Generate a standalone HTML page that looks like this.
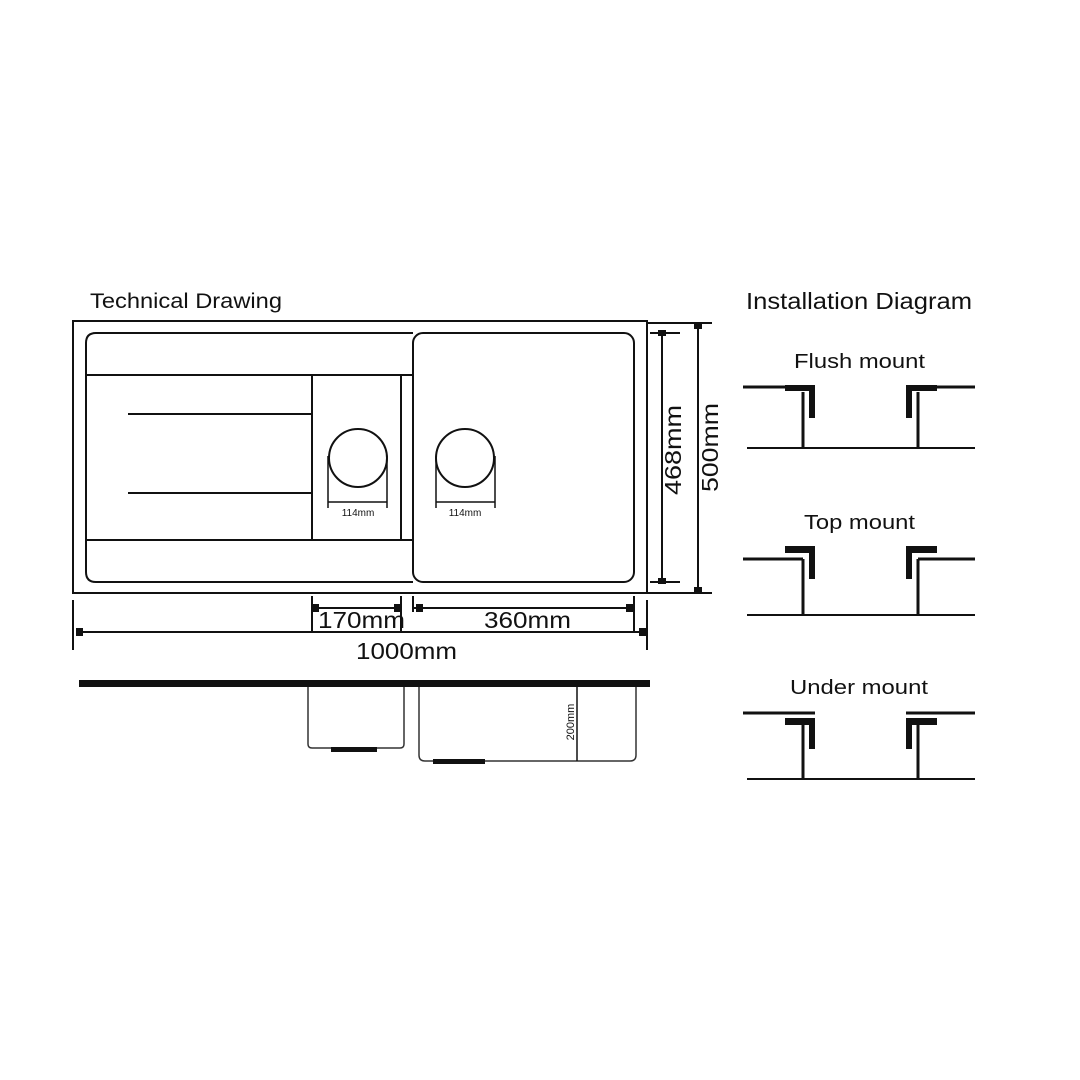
<!DOCTYPE html>
<html><head><meta charset="utf-8"><style>
html,body{margin:0;padding:0;background:#fff;}
svg{display:block;}
text{font-family:"Liberation Sans",sans-serif;fill:#111;}
</style></head><body>
<svg width="1080" height="1080" viewBox="0 0 1080 1080" xmlns="http://www.w3.org/2000/svg">
<rect width="1080" height="1080" fill="#fff"/>
<text x="90" y="308" font-size="21" textLength="192" lengthAdjust="spacingAndGlyphs">Technical Drawing</text>
<text x="746" y="309" font-size="23" textLength="226" lengthAdjust="spacingAndGlyphs">Installation Diagram</text>
<g fill="none" stroke="#111" stroke-width="2">
<rect x="73" y="321" width="574" height="272"/>
<path d="M413 333 H96 Q86 333 86 343 V572 Q86 582 96 582 H413"/>
<rect x="413" y="333" width="221" height="249" rx="10"/>
<line x1="86" y1="375" x2="413" y2="375"/>
<line x1="86" y1="540" x2="413" y2="540"/>
<line x1="312" y1="375" x2="312" y2="540"/>
<line x1="401" y1="375" x2="401" y2="540"/>
<line x1="128" y1="414" x2="312" y2="414"/>
<line x1="128" y1="493" x2="312" y2="493"/>
<circle cx="358" cy="458" r="29"/>
<circle cx="465" cy="458" r="29"/>
<path d="M328 456 V508 M387 456 V508 M328 502 H387" stroke-width="1.5"/>
<path d="M436 456 V508 M495 456 V508 M436 502 H495" stroke-width="1.5"/>
<line x1="662" y1="333" x2="662" y2="582"/>
<line x1="650" y1="333" x2="680" y2="333"/>
<line x1="650" y1="582" x2="680" y2="582"/>
<line x1="698" y1="323" x2="698" y2="593"/>
<line x1="648" y1="323" x2="712" y2="323"/>
<line x1="648" y1="593" x2="712" y2="593"/>
<line x1="312" y1="596" x2="312" y2="632"/>
<line x1="401" y1="596" x2="401" y2="632"/>
<line x1="413" y1="596" x2="413" y2="612"/>
<line x1="634" y1="596" x2="634" y2="632"/>
<line x1="312" y1="608" x2="401" y2="608"/>
<line x1="413" y1="608" x2="630" y2="608"/>
<line x1="73" y1="600" x2="73" y2="650"/>
<line x1="647" y1="600" x2="647" y2="650"/>
<line x1="76" y1="632" x2="646" y2="632"/>
</g>
<g fill="#111">
<rect x="658" y="330" width="8" height="6"/><rect x="658" y="578" width="8" height="6"/>
<rect x="694" y="323" width="8" height="6"/><rect x="694" y="587" width="8" height="6"/>
<rect x="312" y="604" width="7" height="8"/><rect x="394" y="604" width="7" height="8"/>
<rect x="416" y="604" width="7" height="8"/><rect x="626" y="604" width="7" height="8"/>
<rect x="76" y="628" width="7" height="8"/><rect x="639" y="628" width="7" height="8"/>
</g>
<text x="358" y="516" font-size="10" text-anchor="middle">114mm</text>
<text x="465" y="516" font-size="10" text-anchor="middle">114mm</text>
<text x="318" y="628" font-size="23" textLength="87" lengthAdjust="spacingAndGlyphs">170mm</text>
<text x="484" y="628" font-size="23" textLength="87" lengthAdjust="spacingAndGlyphs">360mm</text>
<text x="356" y="659" font-size="23" textLength="101" lengthAdjust="spacingAndGlyphs">1000mm</text>
<text transform="translate(681,495) rotate(-90)" font-size="23" textLength="90" lengthAdjust="spacingAndGlyphs">468mm</text>
<text transform="translate(718,492) rotate(-90)" font-size="23" textLength="89" lengthAdjust="spacingAndGlyphs">500mm</text>
<rect x="79" y="680" width="571" height="7" fill="#111"/>
<g fill="none" stroke="#333" stroke-width="1.5">
<path d="M308 687 V744 Q308 748 312 748 H400 Q404 748 404 744 V687"/>
<path d="M419 687 V755 Q419 761 425 761 H630 Q636 761 636 755 V687"/>
<line x1="577" y1="687" x2="577" y2="761" stroke="#111"/>
</g>
<rect x="331" y="747" width="46" height="5" fill="#111"/>
<rect x="433" y="759" width="52" height="5" fill="#111"/>
<text transform="translate(574,722) rotate(-90)" font-size="11" text-anchor="middle">200mm</text>
<text x="794" y="368" font-size="20" textLength="131" lengthAdjust="spacingAndGlyphs">Flush mount</text>
<text x="804" y="529" font-size="20" textLength="111" lengthAdjust="spacingAndGlyphs">Top mount</text>
<text x="790" y="694" font-size="20" textLength="138" lengthAdjust="spacingAndGlyphs">Under mount</text>
<g stroke="#111" fill="none">
<path d="M743 387 H813 M906 387 H975" stroke-width="3"/>
<path d="M747 448 H975 M747 615 H975 M747 779 H975" stroke-width="2"/>
<path d="M803 392 V448 M918 392 V448" stroke-width="3"/>
<path d="M743 559 H803 M918 559 H975" stroke-width="3"/>
<path d="M803 559 V615 M918 559 V615" stroke-width="3"/>
<path d="M743 713 H815 M906 713 H975" stroke-width="3"/>
<path d="M803 725 V779 M918 725 V779" stroke-width="3"/>
</g>
<g fill="#111">
<rect x="785" y="385" width="30" height="6"/><rect x="809" y="385" width="6" height="33"/>
<rect x="906" y="385" width="31" height="6"/><rect x="906" y="385" width="6" height="33"/>
<rect x="785" y="546" width="30" height="7"/><rect x="809" y="546" width="6" height="33"/>
<rect x="906" y="546" width="31" height="7"/><rect x="906" y="546" width="6" height="33"/>
<rect x="785" y="718" width="30" height="7"/><rect x="809" y="718" width="6" height="31"/>
<rect x="906" y="718" width="31" height="7"/><rect x="906" y="718" width="6" height="31"/>
</g>
</svg>
</body></html>
